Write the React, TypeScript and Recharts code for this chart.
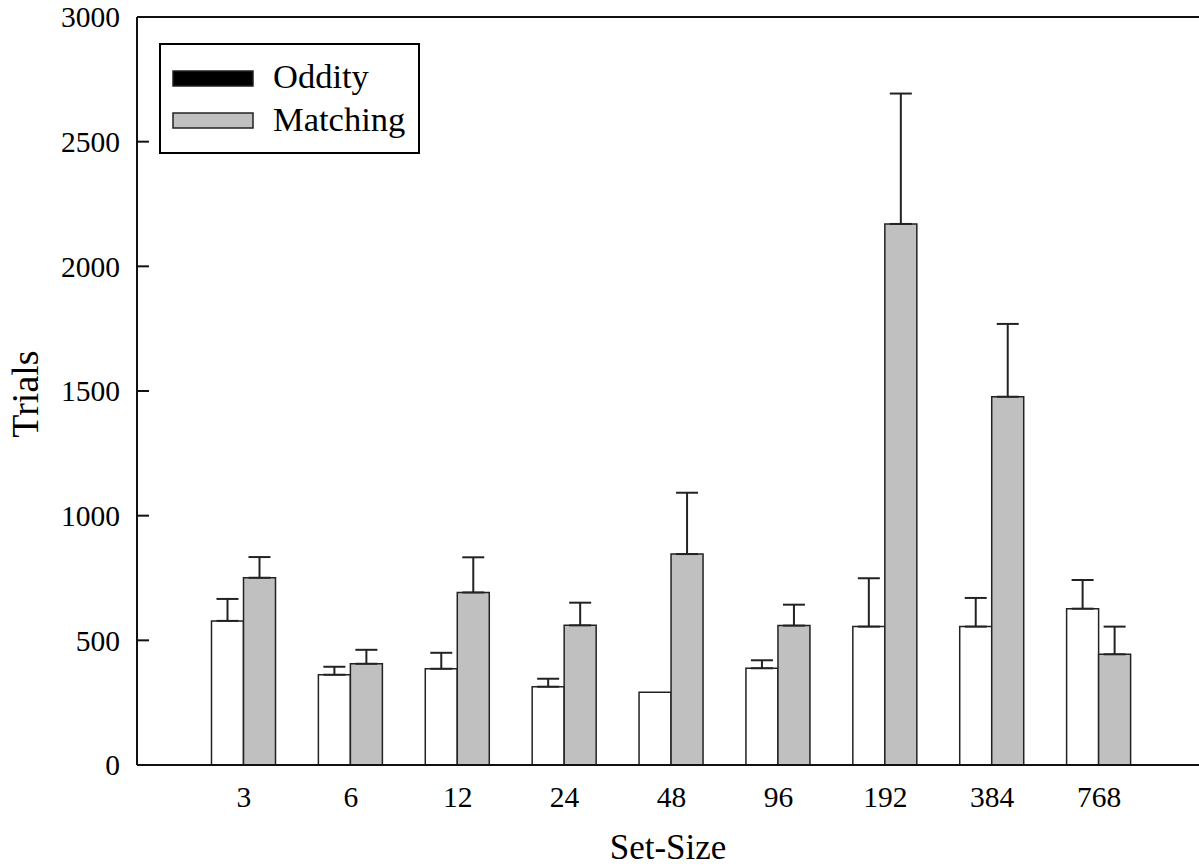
import React from 'react';
import { BarChart, Bar, XAxis, YAxis, ErrorBar, Legend, ReferenceLine } from 'recharts';

const setSizes = ['3', '6', '12', '24', '48', '96', '192', '384', '768'];
const oddity = [578, 362, 386, 314, 292, 388, 555, 555, 627];
const oddityErr: (number | null)[] = [88, 32, 64, 32, null, 32, 194, 115, 115];
const matching = [751, 406, 692, 560, 846, 559, 2170, 1477, 444];
const matchingErr = [83, 56, 141, 91, 246, 84, 523, 292, 111];
const yTicks = [0, 500, 1000, 1500, 2000, 2500, 3000];
const seriesNames = ['Oddity', 'Matching'];
const barFills = ['#ffffff', '#c0c0c0'];
const legendFills = ['#000000', '#c0c0c0'];

const data = setSizes.map((s, i) => ({
  size: s,
  oddity: oddity[i],
  oddityErr: oddityErr[i] == null ? null : [0, oddityErr[i]],
  matching: matching[i],
  matchingErr: [0, matchingErr[i]],
}));

const FONT = '"Liberation Serif", "DejaVu Serif", serif';

const LegendBox = (props: any) => {
  const payload = [...(props.payload || [])].sort(
    (a: any, b: any) => seriesNames.indexOf(a.value) - seriesNames.indexOf(b.value)
  );
  return (
    <svg width={261} height={111} style={{ display: 'block' }}>
      <rect x={1} y={1} width={259} height={109} fill="#fff" stroke="#000" strokeWidth={2} />
      {payload.map((e: any, i: number) => (
        <g key={e.value}>
          <rect
            x={14}
            y={28 + i * 42}
            width={80}
            height={15}
            fill={legendFills[seriesNames.indexOf(e.value)]}
            stroke="#222"
            strokeWidth={1.5}
          />
          <text x={114} y={45 + i * 43} fontSize={34.5} fontFamily={FONT} fill="#000">
            {e.value}
          </text>
        </g>
      ))}
    </svg>
  );
};

const YLabel = (props: any) => {
  const vb = props.viewBox || { x: 0, y: 0, width: 0, height: 0 };
  const x = vb.x + 38;
  const y = vb.y + vb.height / 2 + 3;
  return (
    <text x={x} y={y} transform={`rotate(-90, ${x}, ${y})`} textAnchor="middle" fontSize={38} fontFamily={FONT} fill="#000">
      Trials
    </text>
  );
};

export default function App() {
  return (
    <div style={{ position: 'absolute', left: 0, top: 0, background: '#fff' }}>
      <BarChart
        width={1199}
        height={867}
        data={data}
        margin={{ top: 17, right: 0, left: 0, bottom: 0 }}
        barSize={32}
        barGap={0}
      >
        <XAxis
          dataKey="size"
          height={102}
          padding={{ left: 53.5, right: 46.5 }}
          tickLine={false}
          tickMargin={15}
          axisLine={{ stroke: '#111', strokeWidth: 2 }}
          tick={{ fontSize: 29.5, fontFamily: FONT, fill: '#000' }}
          label={{ value: 'Set-Size', position: 'insideBottom', offset: 8, fontSize: 35, fontFamily: FONT, fill: '#000' }}
        />
        <YAxis
          width={137}
          domain={[0, 3000]}
          ticks={yTicks}
          interval={0}
          tickSize={-12}
          tickMargin={29}
          tickLine={{ stroke: '#111', strokeWidth: 2 }}
          axisLine={{ stroke: '#111', strokeWidth: 2 }}
          tick={{ fontSize: 29.5, fontFamily: FONT, fill: '#000' }}
          label={<YLabel />}
        />
        <ReferenceLine y={3000} stroke="#111" strokeWidth={2} />
        <Legend
          layout="vertical"
          align="center"
          verticalAlign="middle"
          content={<LegendBox />}
          wrapperStyle={{ position: 'absolute', left: 159, top: 43, width: 261, height: 111 }}
        />
        <Bar dataKey="oddity" name={seriesNames[0]} fill={barFills[0]} stroke="#222" strokeWidth={1.5} isAnimationActive={false}>
          <ErrorBar dataKey="oddityErr" direction="y" width={11} stroke="#222" strokeWidth={2} isAnimationActive={false} />
        </Bar>
        <Bar dataKey="matching" name={seriesNames[1]} fill={barFills[1]} stroke="#222" strokeWidth={1.5} isAnimationActive={false}>
          <ErrorBar dataKey="matchingErr" direction="y" width={11} stroke="#222" strokeWidth={2} isAnimationActive={false} />
        </Bar>
      </BarChart>
    </div>
  );
}
